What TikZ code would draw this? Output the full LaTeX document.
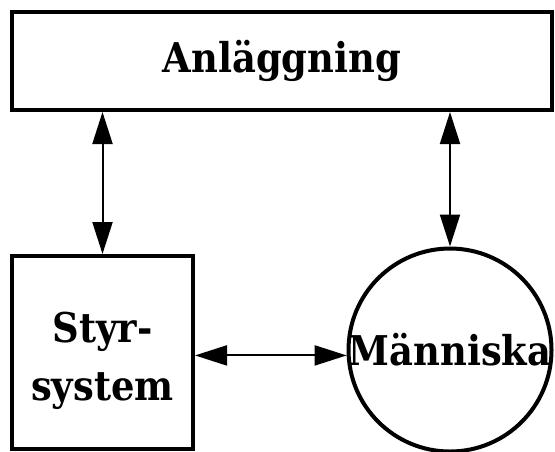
\documentclass[tikz,border=0pt]{standalone}
\usepackage{fontspec}
\setmainfont{DejaVu Serif Condensed}
\usetikzlibrary{arrows.meta}
\begin{document}
\begin{tikzpicture}[x=0.5pt, y=-0.5pt,
  box/.style={shape=rectangle, draw=black, line width=2pt, inner sep=0pt, font=\fontsize{20.5}{29}\selectfont\bfseries},
  arr/.style={{Triangle[length=16pt, width=10pt]}-{Triangle[length=16pt, width=10pt]}, line width=1pt, draw=black}]
\useasboundingbox (0,0) rectangle (555,451);
\node[box, minimum width=270pt, minimum height=49pt] (plant) at (282,61) {Anläggning};
\node[box, minimum width=90.5pt, minimum height=96.5pt, label={[align=center, yshift=-4pt, font=\fontsize{20.5}{29}\selectfont\bfseries]center:Styr-\\system}] (styr) at (102.5,352.5) {};
\node[box, shape=circle, minimum size=101.5pt, label={[font=\fontsize{20.5}{29}\selectfont\bfseries]center:Människa}] (human) at (450,350) {};
\path (styr.north) edge[arr] (plant.south -| styr.north);
\path (human.north) edge[arr] (plant.south -| human.north);
\path (styr.east |- human.183) edge[arr] (human.183);
\end{tikzpicture}
\end{document}
